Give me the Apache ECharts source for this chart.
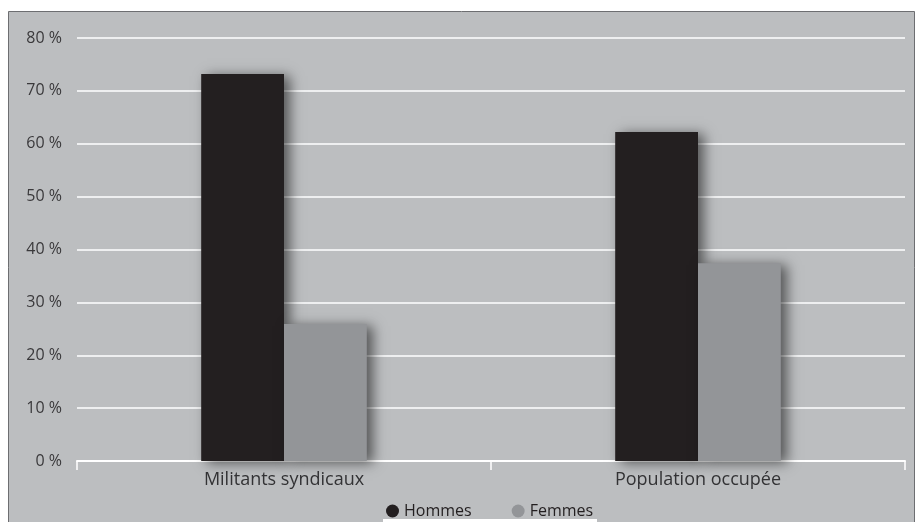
<!DOCTYPE html>
<html>
<head>
<meta charset="utf-8">
<script src="https://cdn.jsdelivr.net/npm/echarts@6/dist/echarts.min.js"></script>
<style>
html,body{margin:0;padding:0;background:#fff;}
#c{width:917px;height:522px;}
</style>
</head>
<body>
<div id="c"></div>
<script>
const categories = ["Militants syndicaux", "Population occupée"];
const hommes = [73.2, 62.2];
const femmes = [25.9, 37.4];
const seriesNames = ["Hommes", "Femmes"];

const chart = echarts.init(document.getElementById('c'));
const font = '"Open Sans", sans-serif';
const shadow = {shadowBlur: 12, shadowOffsetX: 6, shadowOffsetY: 2, shadowColor: 'rgba(0,0,0,0.55)'};
chart.setOption({
  backgroundColor: '#ffffff',
  animation: false,
  graphic: [
    {type: 'rect', z: -10, shape: {x: 8.5, y: 11.5, width: 906, height: 520},
     style: {fill: '#bcbec0', stroke: '#6d6e71', lineWidth: 1}},
    {type: 'rect', z: -5, shape: {x: 383, y: 519, width: 214, height: 5},
     style: {fill: '#ffffff'}}
  ],
  grid: {left: 77, right: 12, top: 38, bottom: 61, containLabel: false},
  legend: {
    data: seriesNames,
    top: 498,
    left: 381,
    icon: 'circle',
    itemWidth: 13,
    itemHeight: 13,
    itemGap: 40,
    textStyle: {fontFamily: font, fontSize: 16, color: '#231f20'}
  },
  xAxis: {
    type: 'category',
    data: categories,
    axisLine: {lineStyle: {color: '#ffffff', width: 2}},
    axisTick: {show: true, length: 9, lineStyle: {color: '#ffffff', width: 1.5}},
    axisLabel: {fontFamily: font, fontSize: 18, color: '#333335', margin: 10}
  },
  yAxis: {
    type: 'value',
    min: 0, max: 80, interval: 10,
    axisLine: {show: false},
    axisTick: {show: false},
    axisLabel: {fontFamily: font, fontSize: 16, color: '#3a393b', formatter: '{value} %', margin: 15},
    splitLine: {lineStyle: {color: '#eeeff0', width: 2}}
  },
  series: [
    {name: seriesNames[0], type: 'bar', data: hommes, barGap: '0%', barCategoryGap: '60%',
     itemStyle: Object.assign({color: '#231f20'}, shadow)},
    {name: seriesNames[1], type: 'bar', data: femmes,
     itemStyle: Object.assign({color: '#939598'}, shadow)}
  ]
});
</script>
</body>
</html>
